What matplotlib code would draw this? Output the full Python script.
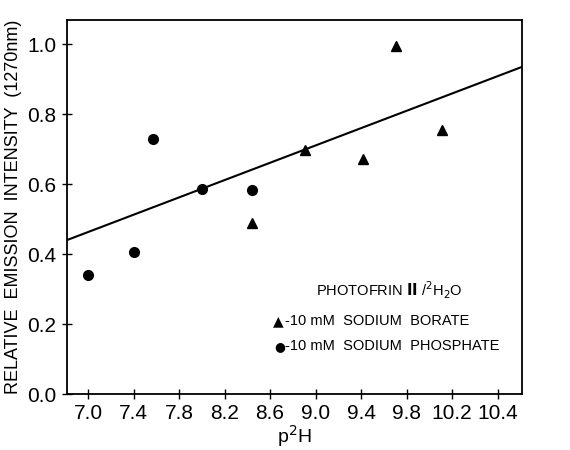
import matplotlib.pyplot as plt
import numpy as np

# data
phosphate_ph = [7.0, 7.4, 7.57, 8.0, 8.44]
phosphate_int = [0.34, 0.405, 0.728, 0.585, 0.583]

borate_ph = [8.44, 8.91, 9.42, 9.71, 10.11]
borate_int = [0.49, 0.697, 0.671, 0.996, 0.754]

# least squares line as drawn (end points)
fit_ph = [6.815, 10.815]
fit_int = [0.44, 0.935]

xtick_labels = ['7.0', '7.4', '7.8', '8.2', '8.6', '9.0', '9.4', '9.8', '10.2', '10.4']
ytick_labels = ['0.0', '0.2', '0.4', '0.6', '0.8', '1.0']

plt.rcParams['font.family'] = ['Liberation Sans', 'DejaVu Sans']

fig = plt.figure(figsize=(5.7, 4.5), dpi=100)
ax = fig.add_axes([67 / 570, 56 / 450, (522 - 67) / 570, (394 - 20) / 450])

ax.plot(fit_ph, fit_int, color='black', lw=1.5)
ax.plot(phosphate_ph, phosphate_int, 'o', color='black', ms=7)
ax.plot(borate_ph, borate_int, '^', color='black', ms=7.5)

ax.set_xlim(6.815, 10.815)
ax.set_ylim(0, 1.069)
ax.set_xticks(np.arange(len(xtick_labels)) * 0.4 + 7.0)
ax.set_xticklabels(xtick_labels)
ax.set_yticks(np.arange(len(ytick_labels)) * 0.2)
ax.set_yticklabels(ytick_labels)
ax.tick_params(direction='inout', length=7, width=1, labelsize=15, pad=4)
for s in ax.spines.values():
    s.set_linewidth(1.3)

ax.set_xlabel('p$^2$H', fontsize=14, labelpad=0)
ax.set_ylabel('RELATIVE  EMISSION  INTENSITY  (1270nm)', fontsize=13, labelpad=4)

# hand-drawn key inside the axes
ax.text(0.547, 0.262, r'PHOTOFRIN $\mathbf{II}$ /$^2$H$_2$O', transform=ax.transAxes, fontsize=10.5)
ax.text(0.453, 0.185, '\u25b2', transform=ax.transAxes, fontsize=10, family='DejaVu Sans')
ax.text(0.479, 0.185, '-10 mM  SODIUM  BORATE', transform=ax.transAxes, fontsize=10.5)
ax.text(0.455, 0.118, '\u25cf', transform=ax.transAxes, fontsize=9, family='DejaVu Sans')
ax.text(0.479, 0.117, '-10 mM  SODIUM  PHOSPHATE', transform=ax.transAxes, fontsize=10.5)

fig.savefig('out.png', dpi=100)
